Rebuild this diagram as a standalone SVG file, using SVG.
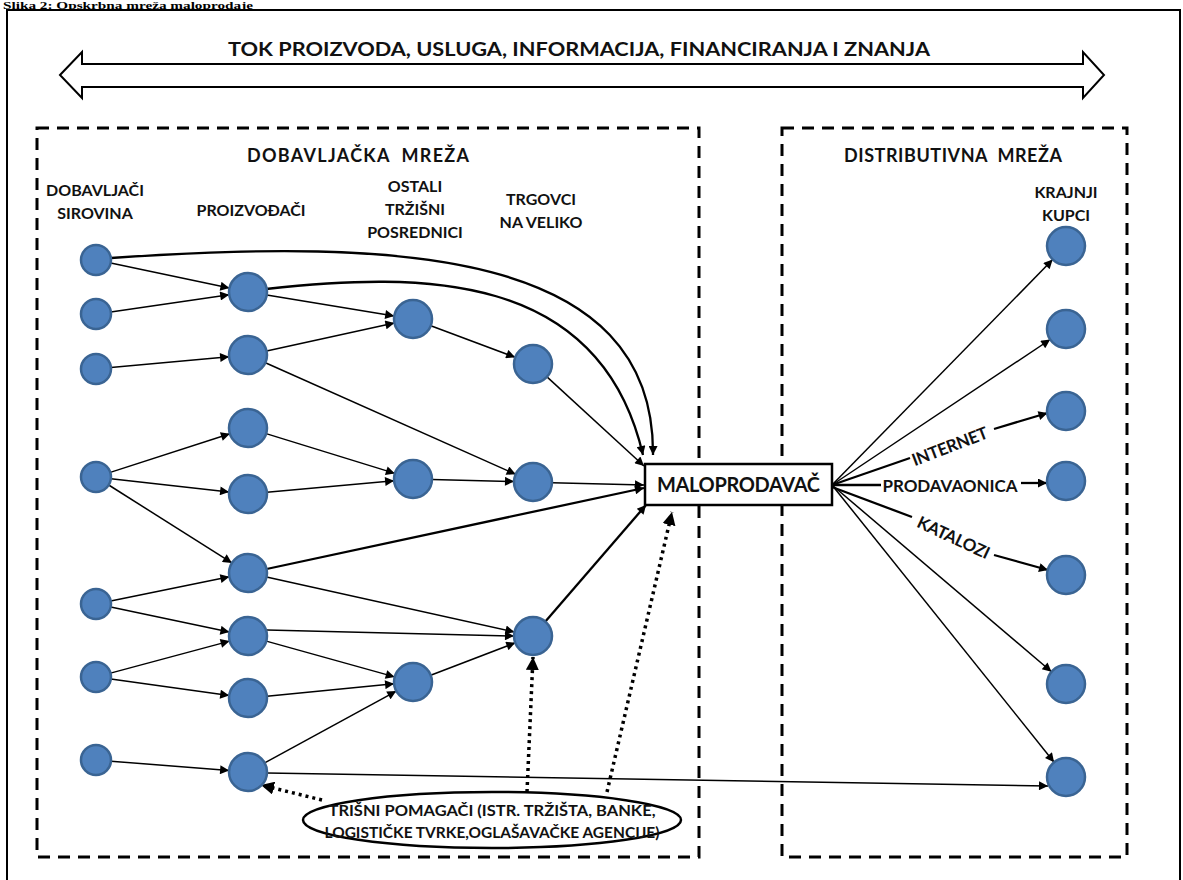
<svg xmlns="http://www.w3.org/2000/svg" width="1183" height="880" viewBox="0 0 1183 880">
<defs>
<style>
.t{font-family:Lato,"Liberation Sans",sans-serif;font-weight:700;fill:#111;}
.n{fill:#4F81BD;stroke:#3A6493;stroke-width:2.5;}
.e{fill:none;stroke:#000;stroke-width:1.5;}
.k{fill:none;stroke:#000;stroke-width:2.3;}
.d{fill:none;stroke:#000;stroke-width:3.5;stroke-dasharray:3 4;}
.box{fill:none;stroke:#000;stroke-width:3;stroke-dasharray:12 8;}
</style>
<marker id="ah" viewBox="0 0 10 10" refX="10" refY="5" markerWidth="11" markerHeight="9" markerUnits="userSpaceOnUse" orient="auto"><path d="M0,0 L10,5 L0,10 z" fill="#000"/></marker>
<marker id="ahd" viewBox="0 0 10 10" refX="10" refY="5" markerWidth="13" markerHeight="13" markerUnits="userSpaceOnUse" orient="auto"><path d="M0,0 L10,5 L0,10 z" fill="#000"/></marker>
</defs>
<rect width="1183" height="880" fill="#fff"/>
<text x="3" y="8.5" style="font-family:'Liberation Serif',serif;font-weight:700;font-size:11px" textLength="250" lengthAdjust="spacingAndGlyphs">Slika 2: Opskrbna mreža maloprodaje</text>
<rect x="7" y="10" width="1173" height="880" fill="none" stroke="#000" stroke-width="2"/>

<g id="flow">
<polygon points="60,75 82,52 82,64 1083,64 1083,52 1104,75 1083,98 1083,87 82,87 82,98" fill="#fff" stroke="#000" stroke-width="2"/>
<text class="t" x="579" y="56" font-size="19" text-anchor="middle" textLength="702" lengthAdjust="spacingAndGlyphs">TOK PROIZVODA, USLUGA, INFORMACIJA, FINANCIRANJA I ZNANJA</text>
</g>

<g id="dobavljacka">
<rect class="box" x="37" y="128" width="662" height="729"/>
<text class="t" x="358" y="162" font-size="18" text-anchor="middle" textLength="222" xml:space="preserve">DOBAVLJAČKA  MREŽA</text>
</g>
<g id="distributivna">
<rect class="box" x="782" y="128" width="345" height="729"/>
<text class="t" x="953" y="162" font-size="18" text-anchor="middle" textLength="218" xml:space="preserve">DISTRIBUTIVNA  MREŽA</text>
</g>

<g id="labels" class="t" font-size="16" text-anchor="middle">
<text x="95" y="196">DOBAVLJAČI</text>
<text x="95" y="219">SIROVINA</text>
<text x="251" y="216">PROIZVOĐAČI</text>
<text x="415" y="192">OSTALI</text>
<text x="415" y="215">TRŽIŠNI</text>
<text x="415" y="238">POSREDNICI</text>
<text x="541" y="205">TRGOVCI</text>
<text x="541" y="228">NA VELIKO</text>
<text x="1066" y="198">KRAJNJI</text>
<text x="1066" y="221">KUPCI</text>
</g>

<g id="connectors">
<path class="k" d="M111,258 C400,238 655,250 653,455" marker-end="url(#ah)"/>
<path class="k" d="M266,289 C420,272 600,270 643,455" marker-end="url(#ah)"/>
<line class="e" x1="110.7" y1="263.1" x2="229.4" y2="288.1" marker-end="url(#ah)"/>
<line class="e" x1="110.8" y1="311.9" x2="229.2" y2="294.7" marker-end="url(#ah)"/>
<line class="e" x1="110.9" y1="367.6" x2="229.1" y2="356.7" marker-end="url(#ah)"/>
<line class="e" x1="266.8" y1="295.1" x2="394.2" y2="315.9" marker-end="url(#ah)"/>
<line class="e" x1="266.6" y1="350.9" x2="394.4" y2="323" marker-end="url(#ah)"/>
<line class="e" x1="265.4" y1="362.7" x2="515.7" y2="474.3" marker-end="url(#ah)"/>
<line class="e" x1="430.8" y1="325.7" x2="515.2" y2="357.3" marker-end="url(#ah)"/>
<line class="e" x1="547" y1="376.9" x2="644" y2="466" marker-end="url(#ah)"/>
<line class="e" x1="110.3" y1="472.4" x2="229.9" y2="433.8" marker-end="url(#ah)"/>
<line class="e" x1="110.9" y1="478.7" x2="229.1" y2="491.9" marker-end="url(#ah)"/>
<line class="e" x1="108.7" y1="485" x2="231.9" y2="562.9" marker-end="url(#ah)"/>
<line class="e" x1="266.1" y1="433.6" x2="394.9" y2="473.4" marker-end="url(#ah)"/>
<line class="e" x1="266.9" y1="492.3" x2="394.1" y2="480.7" marker-end="url(#ah)"/>
<line class="e" x1="432" y1="479.5" x2="514" y2="481.5" marker-end="url(#ah)"/>
<line class="e" x1="552" y1="482.7" x2="644" y2="485" marker-end="url(#ah)"/>
<line class="k" x1="266.6" y1="569" x2="644" y2="488" marker-end="url(#ah)"/>
<line class="e" x1="266.5" y1="577.1" x2="514.5" y2="631.9" marker-end="url(#ah)"/>
<line class="e" x1="110.7" y1="601" x2="229.4" y2="576.8" marker-end="url(#ah)"/>
<line class="e" x1="110.7" y1="607.1" x2="229.4" y2="632.1" marker-end="url(#ah)"/>
<line class="e" x1="110.5" y1="673.1" x2="229.6" y2="641.1" marker-end="url(#ah)"/>
<line class="e" x1="110.9" y1="679.1" x2="229.2" y2="695.4" marker-end="url(#ah)"/>
<line class="e" x1="267" y1="630" x2="514" y2="636" marker-end="url(#ah)"/>
<line class="e" x1="266.3" y1="641.1" x2="394.7" y2="676.9" marker-end="url(#ah)"/>
<line class="e" x1="266.9" y1="696.2" x2="394.1" y2="683.8" marker-end="url(#ah)"/>
<line class="e" x1="111" y1="761.2" x2="229.1" y2="770.5" marker-end="url(#ah)"/>
<line class="e" x1="264.7" y1="762.9" x2="396.3" y2="691.1" marker-end="url(#ah)"/>
<line class="e" x1="430.7" y1="675.2" x2="515.3" y2="642.8" marker-end="url(#ah)"/>
<line class="k" x1="545.4" y1="621.6" x2="646" y2="505" marker-end="url(#ah)"/>
<line class="e" x1="267" y1="773" x2="1048" y2="786" marker-end="url(#ah)"/>
<line class="e" x1="832" y1="485" x2="1052.7" y2="259.6" marker-end="url(#ah)"/>
<line class="e" x1="832" y1="485" x2="1050.2" y2="339.5" marker-end="url(#ah)"/>
<line class="e" x1="832" y1="485" x2="1051.5" y2="671.7" marker-end="url(#ah)"/>
<line class="e" x1="832" y1="485" x2="1054.1" y2="762.2" marker-end="url(#ah)"/>
<line class="k" x1="832" y1="485" x2="910" y2="458"/>
<line class="k" x1="994" y1="429" x2="1047.5" y2="413" marker-end="url(#ah)"/>
<line class="k" x1="832" y1="485" x2="881" y2="485"/>
<line class="k" x1="1021" y1="483" x2="1047" y2="483" marker-end="url(#ah)"/>
<line class="k" x1="832" y1="487" x2="912" y2="517"/>
<line class="k" x1="994" y1="555" x2="1048" y2="570" marker-end="url(#ah)"/>
<line class="d" x1="527" y1="792" x2="533" y2="657" marker-end="url(#ahd)"/>
<line class="d" x1="607" y1="792" x2="672" y2="512" marker-end="url(#ahd)"/>
<line class="d" x1="322" y1="800" x2="261" y2="785" marker-end="url(#ahd)"/>
</g>

<g id="channel-labels" class="t" font-size="17">
<text transform="translate(952,452) rotate(-21)" text-anchor="middle" textLength="80">INTERNET</text>
<text x="950" y="492" text-anchor="middle" textLength="135">PRODAVAONICA</text>
<text transform="translate(951,543) rotate(25)" text-anchor="middle" textLength="78">KATALOZI</text>
</g>

<g id="maloprodavac">
<rect x="645" y="464" width="187" height="41" fill="#fff" stroke="#000" stroke-width="2.5"/>
<text class="t" x="738.5" y="492" font-size="20" text-anchor="middle" textLength="163">MALOPRODAVAČ</text>
</g>

<g id="pomagaci">
<ellipse cx="492" cy="820" rx="189" ry="28" fill="#fff" stroke="#000" stroke-width="2.5"/>
<text class="t" x="492" y="816" font-size="16" text-anchor="middle" textLength="327" lengthAdjust="spacingAndGlyphs">TRIŠNI POMAGAČI (ISTR. TRŽIŠTA, BANKE,</text>
<text class="t" x="492" y="838" font-size="16" text-anchor="middle" textLength="335" lengthAdjust="spacingAndGlyphs">LOGISTIČKE TVRKE,OGLAŠAVAČKE AGENCIJE)</text>
</g>

<g id="nodes">
<circle id="a1" class="n" cx="96" cy="260" r="15"/>
<circle id="a2" class="n" cx="96" cy="314" r="15"/>
<circle id="a3" class="n" cx="96" cy="369" r="15"/>
<circle id="a4" class="n" cx="96" cy="477" r="15"/>
<circle id="a5" class="n" cx="96" cy="604" r="15"/>
<circle id="a6" class="n" cx="96" cy="677" r="15"/>
<circle id="a7" class="n" cx="96" cy="760" r="15"/>
<circle id="b1" class="n" cx="248" cy="292" r="19"/>
<circle id="b2" class="n" cx="248" cy="355" r="19"/>
<circle id="b3" class="n" cx="248" cy="428" r="19"/>
<circle id="b4" class="n" cx="248" cy="494" r="19"/>
<circle id="b5" class="n" cx="248" cy="573" r="19"/>
<circle id="b6" class="n" cx="248" cy="636" r="19"/>
<circle id="b7" class="n" cx="248" cy="698" r="19"/>
<circle id="b8" class="n" cx="248" cy="772" r="19"/>
<circle id="c1" class="n" cx="413" cy="319" r="19"/>
<circle id="c2" class="n" cx="413" cy="479" r="19"/>
<circle id="c3" class="n" cx="413" cy="682" r="19"/>
<circle id="d1" class="n" cx="533" cy="364" r="19"/>
<circle id="d2" class="n" cx="533" cy="482" r="19"/>
<circle id="d3" class="n" cx="533" cy="636" r="19"/>
<circle id="r1" class="n" cx="1066" cy="246" r="19"/>
<circle id="r2" class="n" cx="1066" cy="329" r="19"/>
<circle id="r3" class="n" cx="1066" cy="411" r="19"/>
<circle id="r4" class="n" cx="1066" cy="481" r="19"/>
<circle id="r5" class="n" cx="1066" cy="575" r="19"/>
<circle id="r6" class="n" cx="1066" cy="684" r="19"/>
<circle id="r7" class="n" cx="1066" cy="777" r="19"/>
</g>
</svg>
